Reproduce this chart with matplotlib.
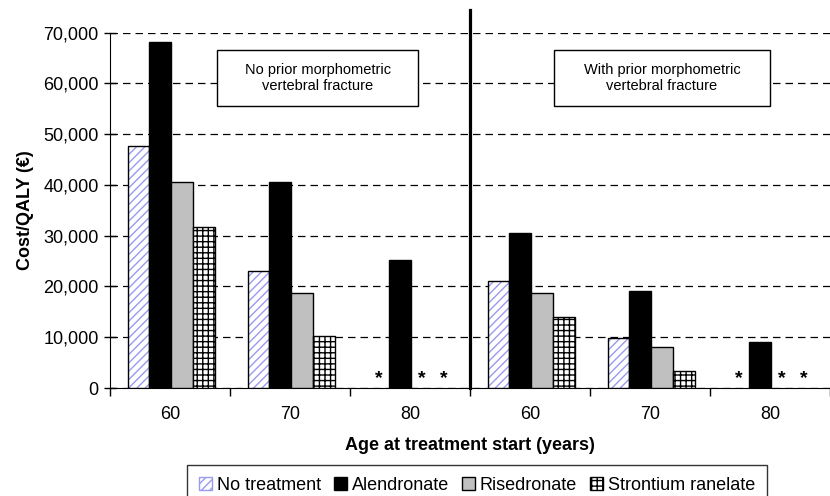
import numpy as np
import matplotlib
matplotlib.use("Agg")
import matplotlib.pyplot as plt
from matplotlib.patches import Rectangle, Patch

plt.rcParams['font.family'] = ['Liberation Sans', 'DejaVu Sans']

# Daten: Kosten/QALY je Alter, links ohne / rechts mit vorheriger Fraktur
ages = ["60", "70", "80", "60", "70", "80"]
no_treatment = [47600, 23000, np.nan, 21000, 9800, np.nan]
alendronate = [68100, 40500, 25300, 30600, 19200, 9000]
risedronate = [40500, 18800, np.nan, 18800, 8000, np.nan]
strontium = [31800, 10300, np.nan, 14000, 3300, np.nan]
series_names = ["No treatment", "Alendronate", "Risedronate", "Strontium ranelate"]
panel_titles = ["No prior morphometric\nvertebral fracture",
                "With prior morphometric\nvertebral fracture"]

fig = plt.figure(figsize=(8.3, 4.96), dpi=100)
ax = fig.add_axes([0.1325, 0.2177, 0.8675, 0.7166])

x = np.arange(len(ages)) + 0.5
w = 0.181
offsets = np.array([-1.5, -0.5, 0.5, 1.5]) * w + 0.01

series = [no_treatment, alendronate, risedronate, strontium]
for k, vals in enumerate(series):
    vals = np.array(vals, dtype=float)
    pos = x + offsets[k]
    ok = ~np.isnan(vals)
    if k == 0:
        # Schraffur hellblau, Rand schwarz
        ax.bar(pos[ok], vals[ok], w, color="white", edgecolor="#9a9af0",
               hatch="////", linewidth=0, zorder=3)
        ax.bar(pos[ok], vals[ok], w, fill=False, edgecolor="black", linewidth=1, zorder=4)
    elif k == 1:
        ax.bar(pos[ok], vals[ok], w, color="black", edgecolor="black", linewidth=1, zorder=3)
    elif k == 2:
        ax.bar(pos[ok], vals[ok], w, color="#c0c0c0", edgecolor="black", linewidth=1, zorder=3)
    else:
        ax.bar(pos[ok], vals[ok], w, color="white", edgecolor="black",
               hatch="+++", linewidth=1, zorder=3)
    # Sterne fuer fehlende Werte
    for p in pos[~ok]:
        ax.annotate("*", (p, 0), xytext=(0, 1), textcoords="offset points",
                    ha="center", va="bottom", fontsize=14, fontweight="bold", zorder=5)

# Trennlinie zwischen den Panels
ax.plot([3, 3], [0, 74500], color="black", linewidth=2.3, clip_on=False, zorder=6)

# Textboxen
for i, t in enumerate(panel_titles):
    cx = 1.73 + i * 2.81
    ax.add_patch(Rectangle((cx - 0.84, 55500), 1.68 + i * 0.12, 11000,
                           facecolor="white", edgecolor="black", linewidth=1, zorder=5))
    ax.text(cx + i * 0.06, 61000, t, ha="center", va="center", fontsize=10.5,
            linespacing=1.15, zorder=6)

ax.set_ylim(0, 70000)
ax.set_xlim(0, 5.926)
ax.set_yticks(np.arange(0, 70001, 10000))
ax.set_yticklabels([f"{v:,}" for v in range(0, 70001, 10000)], fontsize=13)
ax.tick_params(axis="y", direction="inout", length=8, width=1, pad=4)
ax.yaxis.grid(True, linestyle=(0, (6, 4)), color="black", linewidth=0.9)
ax.set_axisbelow(True)

ax.set_xticks(np.arange(0, 7))
ax.set_xticklabels([])
ax.set_xticks(x, minor=True)
ax.set_xticklabels(ages, minor=True, fontsize=13)
ax.tick_params(axis="x", which="major", direction="out", length=6, width=1)
ax.tick_params(axis="x", which="minor", length=0, pad=13)

ax.spines["top"].set_visible(False)
ax.spines["right"].set_visible(False)

ax.set_ylabel("Cost/QALY (€)", fontsize=13, fontweight="bold", labelpad=7)
ax.set_xlabel("Age at treatment start (years)", fontsize=13, fontweight="bold", labelpad=10)

handles = [
    Patch(facecolor="white", edgecolor="#9a9af0", hatch="////"),
    Patch(facecolor="black", edgecolor="black"),
    Patch(facecolor="#c0c0c0", edgecolor="black"),
    Patch(facecolor="white", edgecolor="black", hatch="+++"),
]
leg = fig.legend(handles, series_names, loc="upper center", bbox_to_anchor=(0.5745, 0.0625),
                 ncol=4, fontsize=13, frameon=True, fancybox=False, edgecolor="black",
                 handlelength=0.75, handleheight=0.75, handletextpad=0.25,
                 columnspacing=0.7, borderpad=0.65, borderaxespad=0)
leg.get_frame().set_linewidth(1)

fig.savefig("out.png", dpi=100)
